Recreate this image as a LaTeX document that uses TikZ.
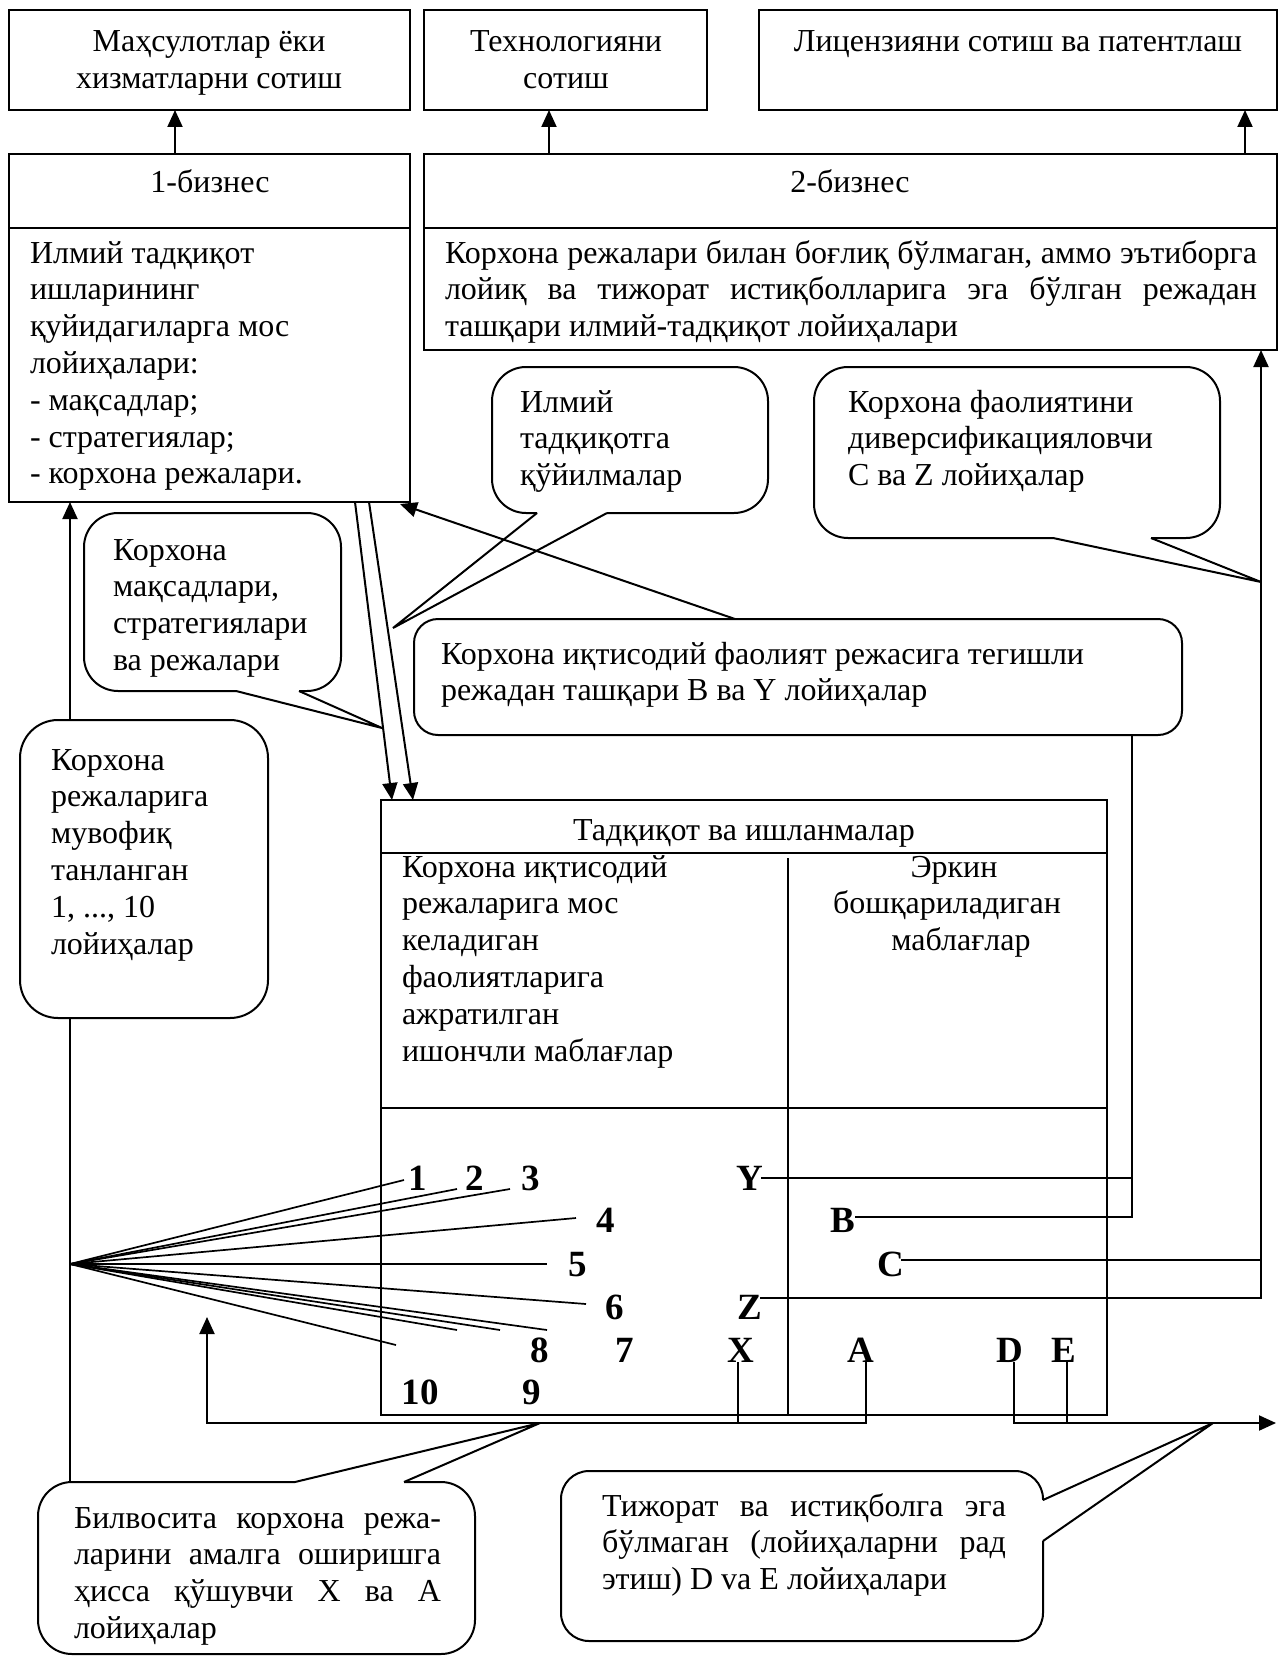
\documentclass[tikz,border=0pt]{standalone}
\usepackage{fontspec}
\setmainfont{Liberation Serif}
\usetikzlibrary{arrows.meta}
\newcommand\jfline[1]{\makebox[\linewidth][s]{#1}}
\begin{document}
\begin{tikzpicture}[x=1pt,y=-1pt,
  every node/.style={inner sep=0pt,outer sep=0pt},
  boxn/.style={draw,line width=2pt,anchor=north west},
  ln/.style={line width=2pt},
  fanln/.style={line width=1.7pt},
  arr/.style={line width=2pt,-{Triangle[length=17pt,width=15pt]}},
  co/.style={line width=2pt,rounded corners=34pt},
  tx/.style={font=\fontsize{32}{36.8}\selectfont,anchor=base west},
  tc/.style={font=\fontsize{32}{36.8}\selectfont,anchor=base},
  nb/.style={font=\fontsize{37}{42}\selectfont\bfseries,anchor=base}]
\useasboundingbox (0,0) rectangle (1286,1656);

% ---------- boxes ----------
\node[boxn,minimum width=401pt,minimum height=100pt] (prod) at (9,10) {};
\node[boxn,minimum width=283pt,minimum height=100pt] (tech) at (424,10) {};
\node[boxn,minimum width=518pt,minimum height=100pt] (lic) at (759,10) {};
\node[boxn,minimum width=401pt,minimum height=74pt] (b1h) at (9,154) {};
\node[boxn,minimum width=401pt,minimum height=274pt] (b1b) at (9,228) {};
\node[boxn,minimum width=853pt,minimum height=74pt] (b2h) at (424,154) {};
\node[boxn,minimum width=853pt,minimum height=122pt] (b2b) at (424,228) {};
\node[boxn,minimum width=726pt,minimum height=615pt] (rd) at (381,800) {};
\node[boxn,minimum width=726pt,minimum height=53pt] (rdh) at (381,800) {};
\draw[ln] ([yshift=-308pt]rd.north west) -- ([yshift=-308pt]rd.north east);
\draw[ln] ([xshift=407pt,yshift=-58pt]rd.north west) -- ([xshift=407pt]rd.south west);

% ---------- callouts ----------
\draw[co] (299,691) -- (341,691) -- (341,513) -- (84,513) -- (84,691) -- (236,691);
\draw[ln] (236,691) -- (382,728) -- (299,691);
\draw[co] (607,513) -- (768,513) -- (768,367) -- (492,367) -- (492,513) -- (537,513);
\draw[ln] (537,513) -- (393,628) -- (607,513);
\draw[co] (1151,538) -- (1220,538) -- (1220,367) -- (814,367) -- (814,538) -- (1053,538);
\draw[ln] (1053,538) -- (1261,582) -- (1151,538);
\draw[ln,rounded corners=24pt] (414,619) rectangle (1182,735);
\draw[ln,rounded corners=38pt] (20,720) rectangle (268,1018);
\draw[co] (404,1482) -- (475,1482) -- (475,1654) -- (38,1654) -- (38,1482) -- (295,1482);
\draw[ln] (295,1482) -- (540,1423) -- (404,1482);
\draw[ln,rounded corners=28pt] (1043,1541) -- (1043,1641) -- (561,1641) -- (561,1471) -- (1043,1471) -- (1043,1500);
\draw[ln] (1043,1500) -- (1213,1423) -- (1043,1541);

% ---------- texts ----------
\node[tc] (tprod) at (209,52) {\parbox[t]{390pt}{\centering Маҳсулотлар ёки\\хизматларни сотиш}};
\node[tc] (ttech) at (566,52) {\parbox[t]{280pt}{\centering Технологияни\\сотиш}};
\node[tc] (tlic) at (1018,52) {Лицензияни сотиш ва патентлаш};
\node[tc] (tb1) at (210,193) {1-бизнес};
\node[tc] (tb2) at (850,193) {2-бизнес};
\node[tx] (tb1body) at (30,263) {\parbox[t]{375pt}{\raggedright Илмий тадқиқот\\ишларининг\\қуйидагиларга мос\\лойиҳалари:\\- мақсадлар;\\- стратегиялар;\\- корхона режалари.}};
\node[tx] (tb2body) at (445,263) {\parbox[t]{812pt}{\jfline{Корхона режалари билан боғлиқ бўлмаган, аммо эътиборга}\\\jfline{лойиқ ва тижорат истиқболларига эга бўлган режадан}\\ташқари илмий-тадқиқот лойиҳалари}};
\node[tx] (tc2) at (520,412) {\parbox[t]{240pt}{\raggedright Илмий\\тадқиқотга\\қўйилмалар}};
\node[tx] (tc3) at (848,412) {\parbox[t]{365pt}{\raggedright Корхона фаолиятини\\диверсификацияловчи\\C ва Z лойиҳалар}};
\node[tx] (tc1) at (113,560) {\parbox[t]{225pt}{\raggedright Корхона\\мақсадлари,\\стратегиялари\\ва режалари}};
\node[tx] (tc4) at (441,664) {\parbox[t]{730pt}{\raggedright Корхона иқтисодий фаолият режасига тегишли\\режадан ташқари B ва Y лойиҳалар}};
\node[tx] (tc5) at (51,770) {\parbox[t]{215pt}{\raggedright Корхона\\режаларига\\мувофиқ\\танланган\\1, ..., 10\\лойиҳалар}};
\node[tc] (trd) at (744,840) {Тадқиқот ва ишланмалар};
\node[tx] (trl) at (402,877) {\parbox[t]{385pt}{\raggedright Корхона иқтисодий\\режаларига мос\\келадиган\\фаолиятларига\\ажратилган\\ишончли маблағлар}};
\node[tc] (trr) at (947,877) {\parbox[t]{315pt}{\centering \hspace*{14pt}Эркин\\бошқариладиган\\\hspace*{28pt}маблағлар}};
\node[tx] (tc6) at (74,1528) {\parbox[t]{367pt}{\jfline{Билвосита корхона режа-}\\\jfline{ларини амалга оширишга}\\\jfline{ҳисса қўшувчи X ва A}\\лойиҳалар}};
\node[tx] (tc7) at (602,1516) {\parbox[t]{404pt}{\jfline{Тижорат ва истиқболга эга}\\\jfline{бўлмаган (лойиҳаларни рад}\\этиш) D va E лойиҳалари}};

% ---------- bold labels ----------
\node[nb] (n1) at (418,1190) {1};
\node[nb] (n2) at (475,1190) {2};
\node[nb] (n3) at (531,1190) {3};
\node[nb] (n4) at (606,1232) {4};
\node[nb] (n5) at (578,1276) {5};
\node[nb] (n6) at (615,1319) {6};
\node[nb] (n8) at (540,1362) {8};
\node[nb] (n7) at (625,1362) {7};
\node[nb] (n10) at (420,1404) {10};
\node[nb] (n9) at (532,1404) {9};
\node[nb] (lY) at (750,1190) {Y};
\node[nb] (lB) at (843,1232) {B};
\node[nb] (lC) at (891,1276) {C};
\node[nb] (lZ) at (750,1319) {Z};
\node[nb] (lX) at (741,1362) {X};
\node[nb] (lA) at (861,1362) {A};
\node[nb] (lD) at (1010,1362) {D};
\node[nb] (lE) at (1064,1362) {E};

% ---------- connectors ----------
\coordinate (a1) at (175,154);
\coordinate (a2) at (549,154);
\coordinate (a3) at (1245,154);
\draw[arr] (a1) -- (a1 |- prod.south);
\draw[arr] (a2) -- (a2 |- tech.south);
\draw[arr] (a3) -- (a3 |- lic.south);
\coordinate (c5t) at (70,720);
\coordinate (c5b) at (70,1018);
\coordinate (c6t) at (70,1482);
\draw[arr] (c5t) -- (c5t |- b1b.south);
\draw[ln] (c5b) -- (c6t);
\coordinate (d1s) at (355,502);
\coordinate (d1e) at (392,800);
\coordinate (d2s) at (369,502);
\coordinate (d2e) at (413,800);
\draw[arr] (d1s) -- (d1e);
\draw[arr] (d2s) -- (d2e);
\coordinate (c4t) at (735,619);
\coordinate (b1tip) at (400,504);
\draw[arr] (c4t) -- (b1tip);
\coordinate (c4b) at (1132,735);
\draw[ln] ([xshift=-2pt]lY.east) -- (lY.east -| c4b);
\draw[ln] ([yshift=3pt]lB.east) -- ([yshift=3pt]lB.east -| c4b) -- (c4b);
\coordinate (rv) at (1261,1300);
\draw[arr] ([xshift=-2pt,yshift=-3pt]lZ.north east) -- ([yshift=-3pt]lZ.north east -| rv) -- (rv |- b2b.south);
\draw[ln] ([xshift=-3pt,yshift=4pt]lC.east) -- ([yshift=4pt]lC.east -| rv);

\coordinate (fan) at (70,1264);
\coordinate (f1) at (404,1180);
\coordinate (f2) at (457,1189);
\coordinate (f3) at (510,1189);
\coordinate (f4) at (576,1218);
\coordinate (f5) at (547,1264);
\coordinate (f6) at (586,1304);
\coordinate (f7) at (547,1330);
\coordinate (f8) at (500,1330);
\coordinate (f9) at (457,1330);
\coordinate (f10) at (396,1345);
\foreach \k in {1,...,10} \draw[fanln] (fan) -- (f\k);

\coordinate (bl) at (207,1423);
\coordinate (blt) at (207,1317);
\coordinate (brt) at (1276,1423);
\draw[arr] ([xshift=5pt]lA.south) -- ([xshift=5pt]lA.south |- bl) -- (bl) -- (blt);
\draw[ln] ([xshift=-3pt]lX.south) -- ([xshift=-3pt]lX.south |- bl);
\draw[arr] ([xshift=4pt]lD.south) -- ([xshift=4pt]lD.south |- brt) -- (brt);
\draw[ln] ([xshift=3pt]lE.south) -- ([xshift=3pt]lE.south |- brt);
\end{tikzpicture}
\end{document}
